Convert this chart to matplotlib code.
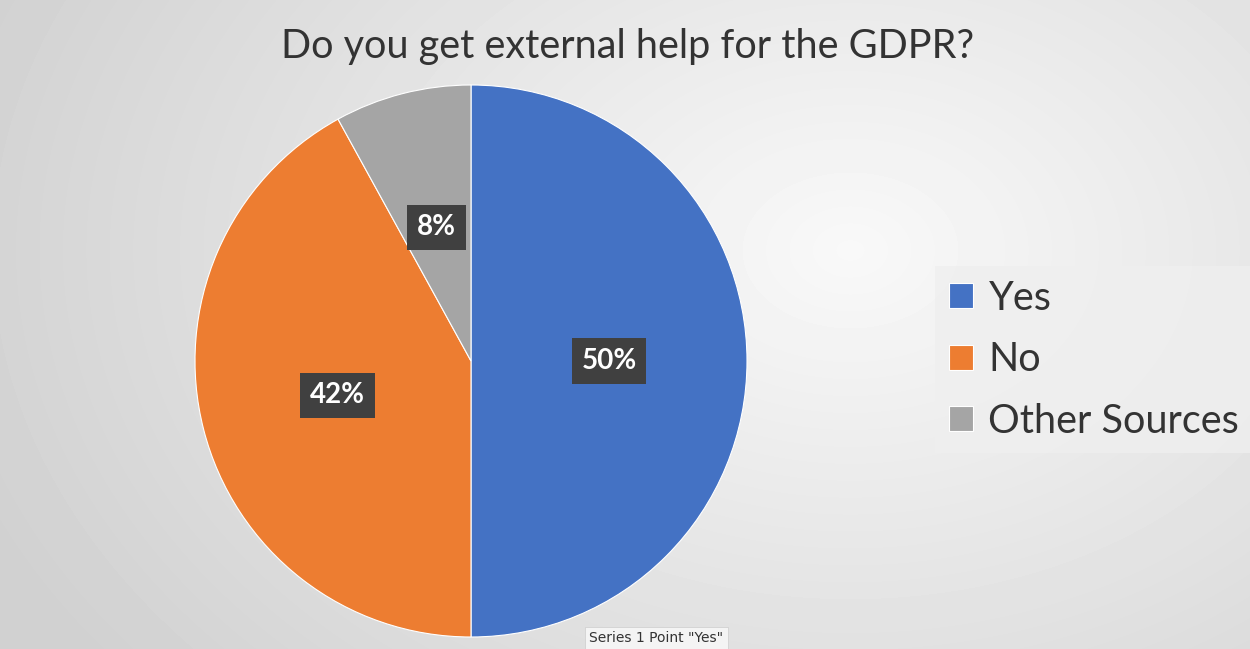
import numpy as np
import matplotlib.pyplot as plt

labels = ['Yes', 'No', 'Other Sources']
shares = [50, 42, 8]
colors = ['#4472C4', '#ED7D31', '#A5A5A5']

fig = plt.figure(figsize=(12.5, 6.49), dpi=100)

# soft grey radial background
bg = fig.add_axes([0, 0, 1, 1])
yy, xx = np.mgrid[0:649, 0:1250]
d = np.sqrt(((xx - 850) / 900.0) ** 2 + ((yy - 250) / 650.0) ** 2)
shade = np.clip(0.975 - 0.15 * d, 0.82, 0.975)
bg.imshow(shade, cmap='gray', vmin=0, vmax=1, aspect='auto', extent=[0, 1, 0, 1],
          interpolation='bilinear')
bg.axis('off')

# pie: centre (471, 361) px, radius ~276 px
r = 276
ax = fig.add_axes([(471 - r) / 1250, (649 - 361 - r) / 649, 2 * r / 1250, 2 * r / 649])
wedges, _, autotexts = ax.pie(shares, colors=colors, startangle=90, counterclock=False,
                              autopct='%d%%', pctdistance=0.5, radius=1,
                              wedgeprops=dict(edgecolor='white', linewidth=0.8))
for t in autotexts:
    t.set_color('white')
    t.set_fontsize(20)
    t.set_fontweight('bold')
    t.set_family('Lato')
    t.set_bbox(dict(boxstyle='square,pad=0.35', facecolor='#404040', edgecolor='none'))
ax.set_xlim(-1, 1)
ax.set_ylim(-1, 1)
ax.set_aspect('auto')

fig.text(0.502, 0.928, 'Do you get external help for the GDPR?', ha='center', va='center',
         fontsize=28.5, family='Lato', color='#333333')

leg = fig.legend(wedges, labels, loc='center left', bbox_to_anchor=(0.748, 0.446),
                 frameon=True, fancybox=False, handlelength=0.6, borderpad=0.35,
                 borderaxespad=0, handleheight=0.6, handletextpad=0.4, labelspacing=0.62,
                 prop={'family': 'Lato', 'size': 28.5})
leg.get_frame().set_facecolor('#efefef')
leg.get_frame().set_edgecolor('none')
for txt in leg.get_texts():
    txt.set_color('#333333')

fig.text(0.4715, 0.017, 'Series 1 Point "Yes"', ha='left', va='center', fontsize=10,
         color='#333333', bbox=dict(boxstyle='square,pad=0.3', facecolor='#f4f4f4',
                                    edgecolor='#cccccc', linewidth=0.5))

fig.savefig('out.png', dpi=100)
